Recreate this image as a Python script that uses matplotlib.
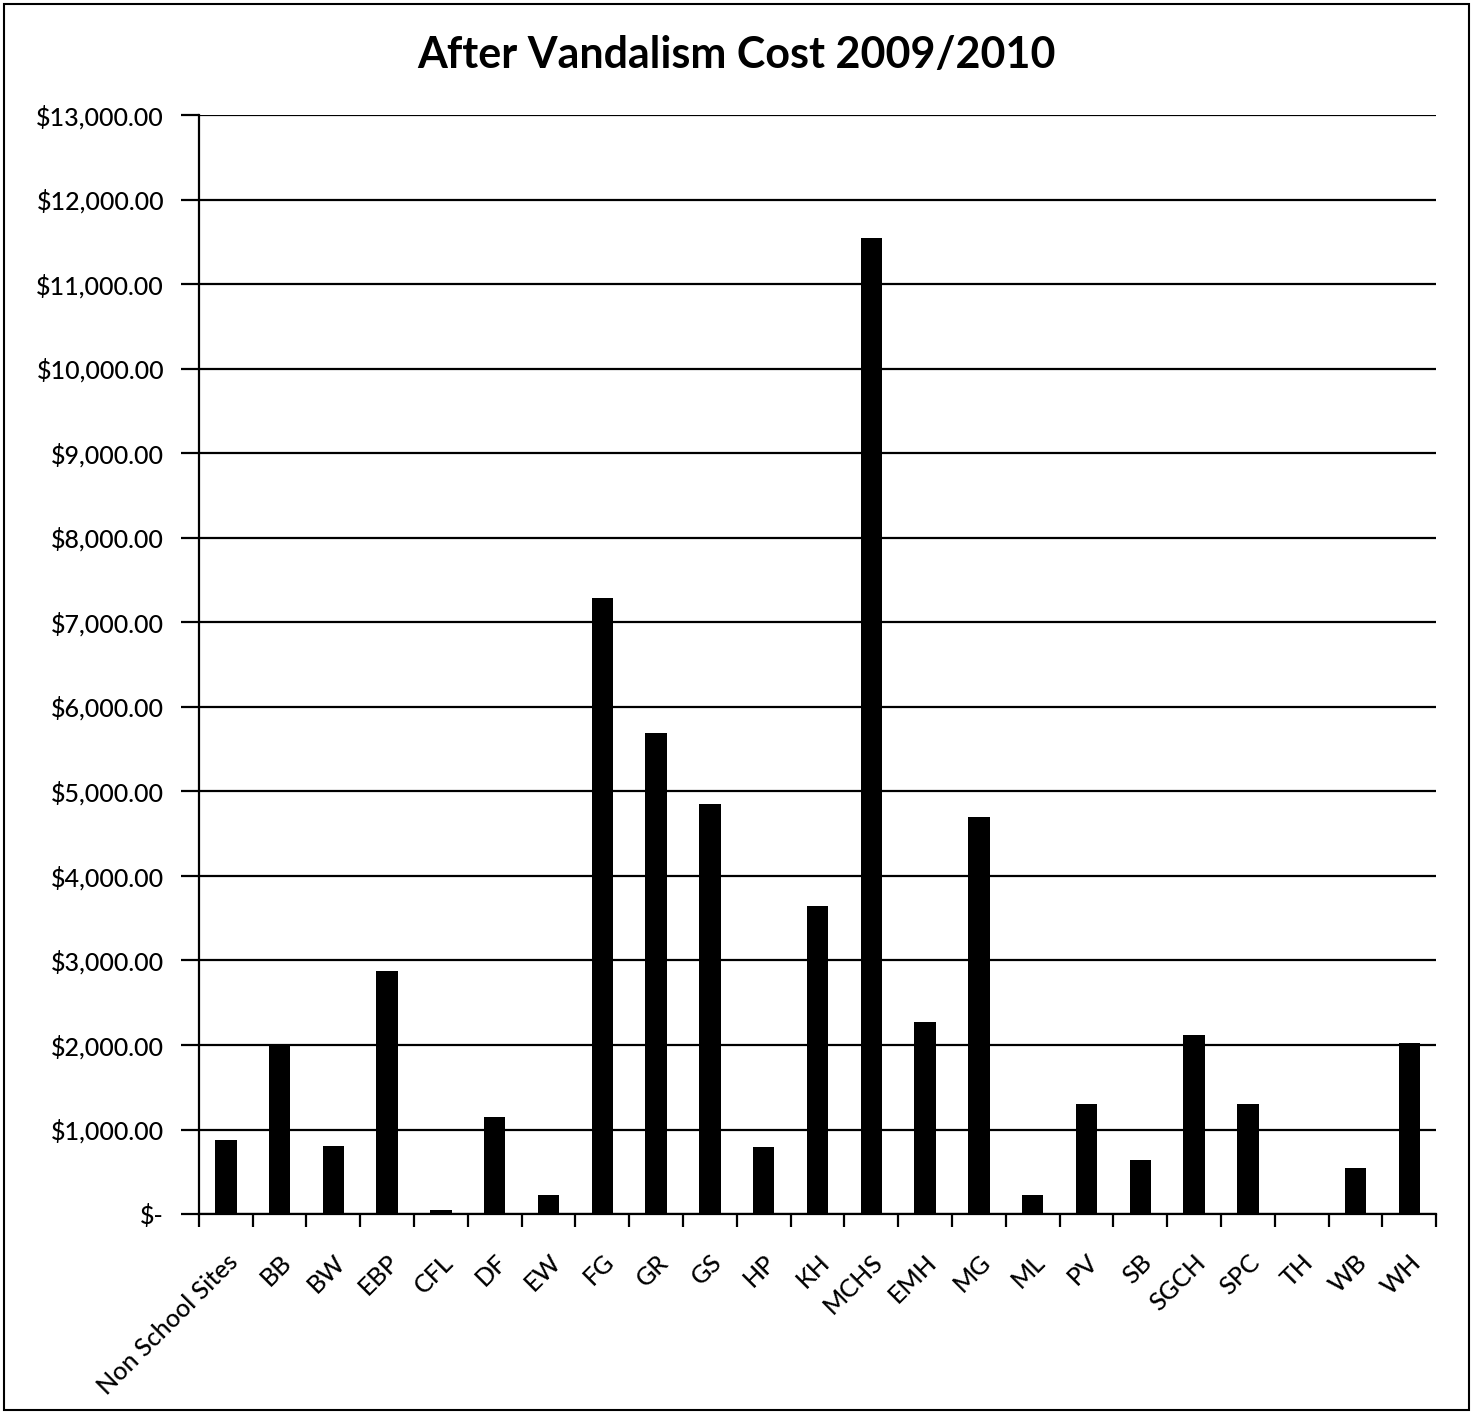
import matplotlib
matplotlib.use('Agg')
import matplotlib.pyplot as plt
from matplotlib.ticker import FuncFormatter, FixedLocator, NullFormatter
import numpy as np

plt.rcParams['font.family'] = ['Lato', 'DejaVu Sans']

# site codes and after-vandalism costs
sites = ['Non School Sites', 'BB', 'BW', 'EBP', 'CFL', 'DF', 'EW', 'FG', 'GR', 'GS',
         'HP', 'KH', 'MCHS', 'EMH', 'MG', 'ML', 'PV', 'SB', 'SGCH', 'SPC', 'TH', 'WB', 'WH']
costs = [875, 2000, 810, 2880, 50, 1150, 220, 7290, 5690, 4850,
         790, 3645, 11550, 2270, 4700, 225, 1300, 640, 2120, 1300, 0, 545, 2025]

fig = plt.figure(figsize=(14.73, 14.14), dpi=100)
ax = fig.add_axes([0.135, 0.1414, 0.84, 0.7773])

x = np.arange(len(sites))
ax.bar(x, costs, width=0.40, color='black', zorder=3)

ax.set_xlim(-0.5, len(sites) - 0.5)
ax.set_ylim(0, 13000)
ax.set_yticks(np.arange(0, 13001, 1000))

def money(v, pos):
    if v == 0:
        return '$-'
    return '${:,.2f}'.format(v)

ax.yaxis.set_major_formatter(FuncFormatter(money))
ax.yaxis.grid(True, color='black', linewidth=1.6, zorder=0)

# category ticks sit between the bars, labels under the bars
ax.set_xticks(x)
ax.set_xticklabels(sites, rotation=45, ha='right', rotation_mode='anchor',
                   fontsize=18, fontweight='medium')
ax.tick_params(axis='x', which='major', length=0, pad=26)
ax.xaxis.set_minor_locator(FixedLocator(np.arange(-0.5, len(sites), 1.0)))
ax.xaxis.set_minor_formatter(NullFormatter())
ax.tick_params(axis='x', which='minor', length=9, width=1.6, color='black', direction='out')
ax.tick_params(axis='y', length=13, width=1.6, labelsize=18, pad=12)
for lbl in ax.get_yticklabels():
    lbl.set_fontweight('medium')

for side in ['top', 'right']:
    ax.spines[side].set_visible(False)
ax.spines['left'].set_linewidth(1.6)
ax.spines['bottom'].set_linewidth(1.6)

fig.suptitle('After Vandalism Cost 2009/2010', fontsize=31, fontweight='bold', y=0.975)

# outer chart border
fig.patches.append(plt.Rectangle((0.003, 0.003), 0.994, 0.994, transform=fig.transFigure,
                                 fill=False, edgecolor='black', linewidth=1.5))

fig.savefig('out.png', dpi=100)
